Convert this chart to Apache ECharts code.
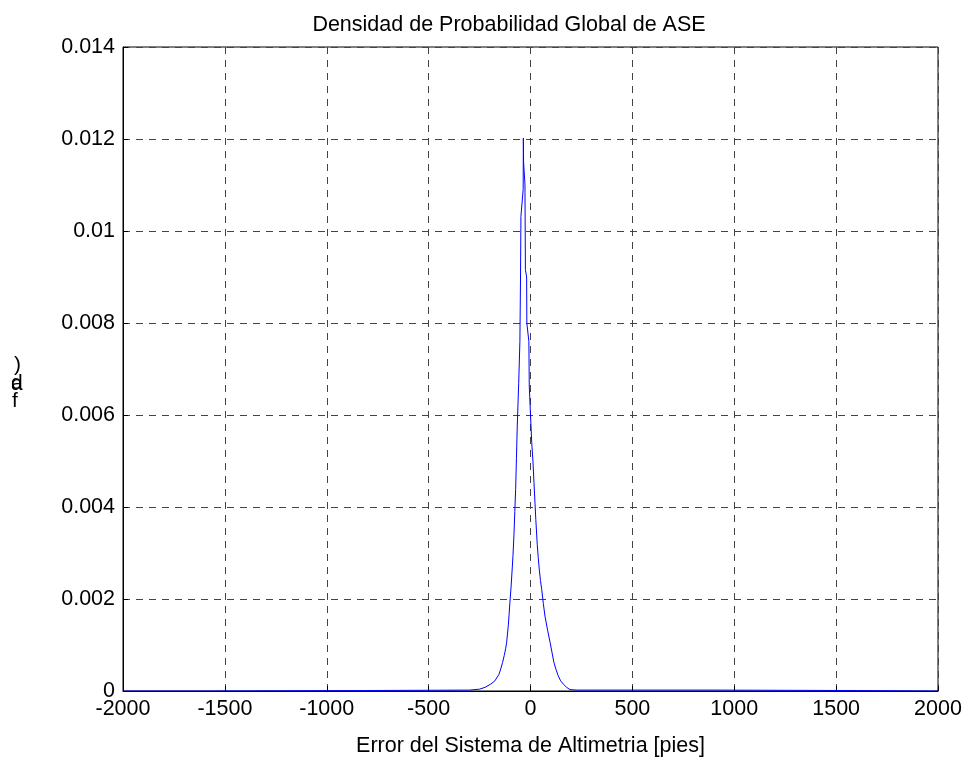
<!DOCTYPE html>
<html>
<head>
<meta charset="utf-8">
<script src="https://cdn.jsdelivr.net/npm/echarts@6/dist/echarts.min.js"></script>
<style>
  html, body { margin: 0; padding: 0; background: #fff; }
  #chart { width: 971px; height: 762px; }
</style>
</head>
<body>
<div id="chart"></div>
<script>
// Error values [pies] and the estimated probability density at each
const errorPies = [
  -2000, -1600, -1598, -820, -818, -300, -250, -223, -195, -175, -166, -155,
  -146, -137, -129, -122, -117, -113, -109, -105, -101, -96, -92, -86,
  -81, -77, -73, -69, -65, -58, -52, -49, -47, -36, -35, -34,
  -27, -27, -25, -19, -18, -8, -6, 0, 6, 12, 17, 22,
  26, 33, 38, 43, 49, 55, 63, 71, 84, 96, 105, 115,
  125, 136, 148, 161, 177, 194, 230, 900, 1600, 1602, 2000
];
const densidad = [
  0, 0, 0.00001, 0.00001, 0.00002, 0.00002, 0.00004, 0.00008, 0.00015, 0.00022, 0.00026, 0.00036,
  0.00048, 0.00062, 0.00077, 0.00092, 0.00106, 0.00124, 0.00142, 0.00166, 0.00193, 0.00222, 0.00250, 0.00294,
  0.00341, 0.00390, 0.00438, 0.00505, 0.00576, 0.00668, 0.00760, 0.00900, 0.01032, 0.01090, 0.01202, 0.01150,
  0.01100, 0.01083, 0.00916, 0.00900, 0.00800, 0.00760, 0.00663, 0.00600, 0.00540, 0.00500, 0.00454, 0.00410,
  0.00373, 0.00319, 0.00290, 0.00265, 0.00240, 0.00221, 0.00190, 0.00163, 0.00132, 0.00106, 0.00085, 0.00062,
  0.00047, 0.00033, 0.00022, 0.00015, 0.00008, 0.00003, 0.00002, 0.00002, 0.00001, 0, 0
];

const titulo = 'Densidad de Probabilidad Global de ASE';
const etiquetaX = 'Error del Sistema de Altimetria [pies]';

const FONT = '"Liberation Sans", Arial, sans-serif';
const chart = echarts.init(document.getElementById('chart'), null, { renderer: 'canvas' });

const puntos = errorPies.map((x, i) => [x, densidad[i]]);

const dashed = { color: '#444444', width: 1, type: [7, 6] };
const glyph = (t, left, top) => ({
  type: 'text', left, top, style: { text: t, font: '21px ' + FONT, fill: '#000' }
});

chart.setOption({
  animation: false,
  backgroundColor: '#ffffff',
  title: {
    text: titulo,
    left: 504,
    top: 9,
    textAlign: 'center',
    textStyle: { fontFamily: FONT, fontSize: 21.5, fontWeight: 'normal', color: '#000' }
  },
  grid: {
    left: 123, right: 33, top: 47, bottom: 70,
    show: true, borderColor: '#000', borderWidth: 1, backgroundColor: '#fff'
  },
  xAxis: {
    type: 'value',
    min: -2000, max: 2000, interval: 500,
    name: etiquetaX,
    nameLocation: 'middle',
    nameGap: 44,
    nameTextStyle: { fontFamily: FONT, fontSize: 21.5, color: '#000' },
    axisLine: { show: true, onZero: false, lineStyle: { color: '#000', width: 1 } },
    axisTick: { show: true, inside: true, length: 5, lineStyle: { color: '#000' } },
    axisLabel: {
      fontFamily: FONT, fontSize: 21.5, color: '#000', margin: 7,
      formatter: v => String(v)
    },
    splitLine: { show: true, lineStyle: dashed }
  },
  yAxis: {
    type: 'value',
    min: 0, max: 0.014, interval: 0.002,
    axisLine: { show: true, onZero: false, lineStyle: { color: '#000', width: 1 } },
    axisTick: { show: true, inside: true, length: 5, lineStyle: { color: '#000' } },
    axisLabel: {
      fontFamily: FONT, fontSize: 21.5, color: '#000', margin: 8,
      formatter: v => String(parseFloat(v.toFixed(3)))
    },
    splitLine: { show: true, lineStyle: dashed }
  },
  graphic: [
    glyph(')', 14, 355),
    glyph('a', 11, 374),
    glyph('d', 11, 373),
    glyph('f', 12, 391)
  ],
  series: [{
    type: 'line',
    data: puntos,
    showSymbol: false,
    symbol: 'none',
    lineStyle: { color: '#0000ff', width: 1 },
    z: 3
  }]
});
</script>
</body>
</html>
